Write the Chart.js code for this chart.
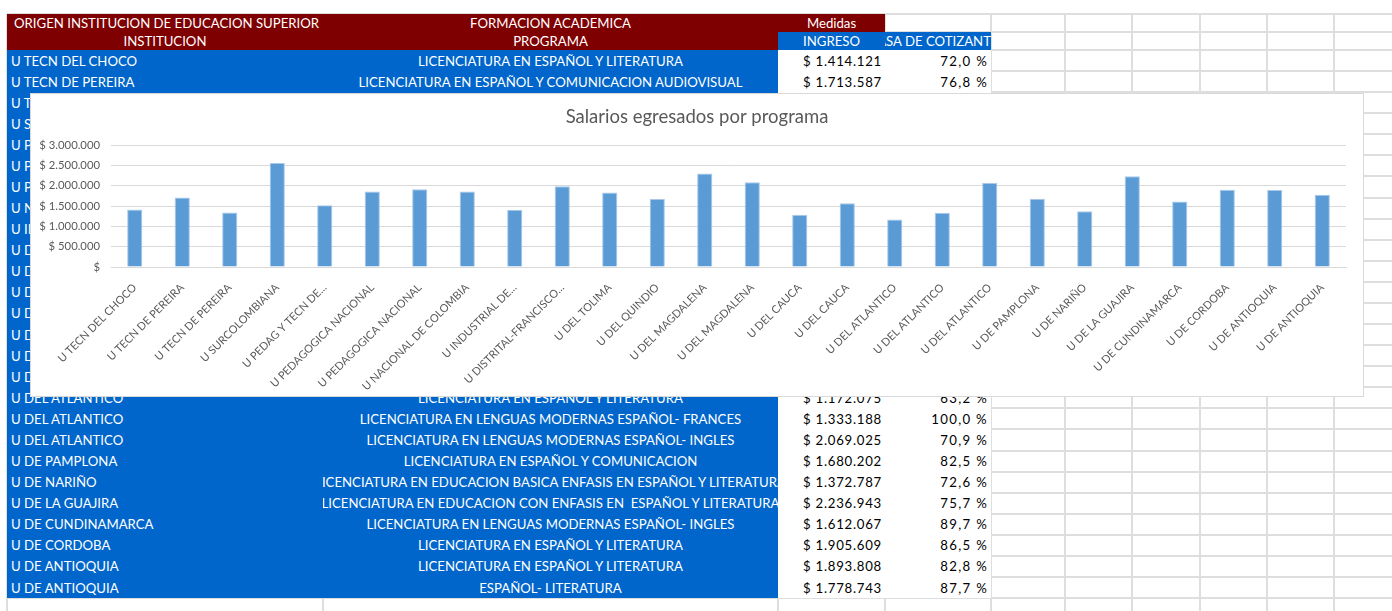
<!DOCTYPE html>
<html>
<head>
<meta charset="utf-8">
<script src="https://cdn.jsdelivr.net/npm/chart.js@4.4.0/dist/chart.umd.min.js"></script>
<style>
  body { margin: 0; width: 1392px; height: 611px; overflow: hidden; background: #fff; position: relative; font-family: Lato, sans-serif; }
  .ln { position: absolute; background: #dedede; }
  .cell { position: absolute; box-sizing: border-box; white-space: pre; overflow: hidden; font-size: 13.2px; display: flex; align-items: center; }
  .l { justify-content: flex-start; padding-left: 4px; }
  .c { justify-content: center; }
  .r { justify-content: flex-end; padding-right: 3px; }
  .num { letter-spacing: 0.75px; }
  .pct { letter-spacing: 1.3px; }
  #grafico { position: absolute; left: 30px; top: 93px; width: 1334px; height: 304px; box-sizing: border-box; border: 1px solid #d9d9d9; background: #fff; z-index: 5; }
</style>
</head>
<body>
<div id="hoja"></div>
<div id="grafico"><canvas id="c" width="1332" height="302"></canvas></div>
<script>
const instituciones = [
  "U TECN DEL CHOCO", "U TECN DE PEREIRA", "U TECN DE PEREIRA", "U SURCOLOMBIANA",
  "U PEDAG Y TECN DE COLOMBIA", "U PEDAGOGICA NACIONAL", "U PEDAGOGICA NACIONAL",
  "U NACIONAL DE COLOMBIA", "U INDUSTRIAL DE SANTANDER", "U DISTRITAL-FRANCISCO JOSE DE CALDAS",
  "U DEL TOLIMA", "U DEL QUINDIO", "U DEL MAGDALENA", "U DEL MAGDALENA", "U DEL CAUCA",
  "U DEL CAUCA", "U DEL ATLANTICO", "U DEL ATLANTICO", "U DEL ATLANTICO", "U DE PAMPLONA",
  "U DE NARIÑO", "U DE LA GUAJIRA", "U DE CUNDINAMARCA", "U DE CORDOBA", "U DE ANTIOQUIA",
  "U DE ANTIOQUIA",
];

// etiquetas del eje tal como las recorta Excel
const etiquetas = [
  "U TECN DEL CHOCO", "U TECN DE PEREIRA", "U TECN DE PEREIRA", "U SURCOLOMBIANA",
  "U PEDAG Y TECN DE...", "U PEDAGOGICA NACIONAL", "U PEDAGOGICA NACIONAL",
  "U NACIONAL DE COLOMBIA", "U INDUSTRIAL DE...", "U DISTRITAL-FRANCISCO...",
  "U DEL TOLIMA", "U DEL QUINDIO", "U DEL MAGDALENA", "U DEL MAGDALENA", "U DEL CAUCA",
  "U DEL CAUCA", "U DEL ATLANTICO", "U DEL ATLANTICO", "U DEL ATLANTICO", "U DE PAMPLONA",
  "U DE NARIÑO", "U DE LA GUAJIRA", "U DE CUNDINAMARCA", "U DE CORDOBA", "U DE ANTIOQUIA",
  "U DE ANTIOQUIA",
];

const programas = [
  "LICENCIATURA EN ESPAÑOL Y LITERATURA",
  "LICENCIATURA EN ESPAÑOL Y COMUNICACION AUDIOVISUAL",
  "", "", "", "", "", "", "", "", "", "", "", "", "", "",
  "LICENCIATURA EN ESPAÑOL Y LITERATURA",
  "LICENCIATURA EN LENGUAS MODERNAS ESPAÑOL- FRANCES",
  "LICENCIATURA EN LENGUAS MODERNAS ESPAÑOL- INGLES",
  "LICENCIATURA EN ESPAÑOL Y COMUNICACION",
  "LICENCIATURA EN EDUCACION BASICA ENFASIS EN ESPAÑOL Y LITERATURA",
  "LICENCIATURA EN EDUCACION CON ENFASIS EN  ESPAÑOL Y LITERATURA",
  "LICENCIATURA EN LENGUAS MODERNAS ESPAÑOL- INGLES",
  "LICENCIATURA EN ESPAÑOL Y LITERATURA",
  "LICENCIATURA EN ESPAÑOL Y LITERATURA",
  "ESPAÑOL- LITERATURA",
];

const ingresos = [
  1414121, 1713587, 1340000, 2560000, 1520000, 1860000, 1915000, 1860000, 1413000,
  1990000, 1835000, 1677000, 2305000, 2090000, 1290000, 1570000, 1172075, 1333188,
  2069025, 1680202, 1372787, 2236943, 1612067, 1905609, 1893808, 1778743,
];

const tasas = [
  72.0, 76.8, null, null, null, null, null, null, null, null, null, null, null, null,
  null, null, 63.2, 100.0, 70.9, 82.5, 72.6, 75.7, 89.7, 86.5, 82.8, 87.7,
];

const ticksY = [0, 500000, 1000000, 1500000, 2000000, 2500000, 3000000];

const miles = (n) => String(Math.round(n)).replace(/\B(?=(\d{3})+(?!\d))/g, ".");

// ---- hoja de calculo ----
const hoja = document.getElementById("hoja");
const cols = [7, 323, 778, 885, 991, 1065, 1132, 1200, 1267, 1334, 1401];
const ROW0 = 50, RH = 21.08;
const filasY = [14, 32];
for (let i = 0; i <= 27; i++) filasY.push(ROW0 + RH * i);

function add(cls, x, y, w, h, style, text) {
  const d = document.createElement("div");
  d.className = cls;
  Object.assign(d.style, { left: x + "px", top: y + "px", width: w + "px", height: h + "px" }, style || {});
  if (text != null) { const s = document.createElement("span"); s.textContent = text; d.appendChild(s); }
  hoja.appendChild(d);
  return d;
}

filasY.forEach((y) => add("ln", 7, y - 1, 1392, 2));
cols.forEach((x) => add("ln", x - 1, 14, 2, 600));

const ROJO = "#7f0000", AZUL = "#0066cc";
const blanco = { color: "#fff" };
// encabezados
add("cell", 7, 14, 878, 18, { background: ROJO });
add("cell l", 7, 14, 316, 18, blanco, "ORIGEN INSTITUCION DE EDUCACION SUPERIOR").style.padding = "0 0 0 7px";
add("cell c", 323, 14, 455, 18, blanco, "FORMACION ACADEMICA");
add("cell c", 778, 14, 107, 18, blanco, "Medidas");
add("cell", 7, 32, 771, 18, { background: ROJO });
add("cell c", 7, 32, 316, 18, blanco, "INSTITUCION");
add("cell c", 323, 32, 455, 18, blanco, "PROGRAMA");
add("cell", 778, 32, 213, 18, { background: AZUL });
add("cell c", 778, 32, 107, 18, blanco, "INGRESO");
add("cell c", 885, 32, 106, 18, blanco, "TASA DE COTIZANTES");

// datos
add("cell", 7, ROW0, 771, RH * 26, { background: AZUL });
add("cell", 778, ROW0, 213, RH * 26, { background: "#fff" });
instituciones.forEach((inst, i) => {
  const y = ROW0 + RH * i;
  add("cell l", 7, y, 316, RH, blanco, inst);
  if (programas[i]) add("cell c", 323, y, 455, RH, blanco, programas[i]);
  add("cell r num", 778, y, 107, RH, { color: "#000" }, "$ " + miles(ingresos[i]));
  if (tasas[i] != null) add("cell r pct", 885, y, 106, RH, { color: "#000" }, tasas[i].toFixed(1).replace(".", ",") + " %");
});

// ---- grafico ----
const gris = "#595959";
new Chart(document.getElementById("c"), {
  type: "bar",
  data: {
    labels: etiquetas,
    datasets: [{
      label: "INGRESO",
      data: ingresos,
      backgroundColor: "#5b9bd5",
      borderColor: "#a9c8ea",
      borderWidth: 1,
      barPercentage: 0.32,
      categoryPercentage: 1,
    }],
  },
  options: {
    responsive: false,
    animation: false,
    layout: { padding: 0 },
    plugins: {
      legend: { display: false },
      tooltip: { enabled: false },
      title: {
        display: true,
        text: "Salarios egresados por programa",
        color: gris,
        font: { family: "Lato", size: 18.5, weight: "normal" },
        padding: { top: 12, bottom: 17 },
      },
    },
    scales: {
      x: {
        grid: { display: false },
        border: { color: "#d9d9d9" },
        ticks: { color: gris, font: { family: "Lato", size: 11 }, minRotation: 45, maxRotation: 45, autoSkip: false, padding: 6 },
        afterFit(s) { s.height = 129; s.paddingLeft = 0; s.paddingRight = 17; },
      },
      y: {
        min: 0,
        max: 3000000,
        afterBuildTicks(s) { s.ticks = ticksY.map((v) => ({ value: v })); },
        ticks: {
          color: gris,
          font: { family: "Lato", size: 11.3 },
          padding: 11,
          callback: (v) => (v === 0 ? "$" : "$ " + miles(v)),
        },
        grid: { color: "#d9d9d9", drawTicks: false },
        border: { display: false },
        afterFit(s) { s.width = 80; s.paddingTop = 0; s.paddingBottom = 0; },
      },
    },
  },
});
</script>
</body>
</html>
